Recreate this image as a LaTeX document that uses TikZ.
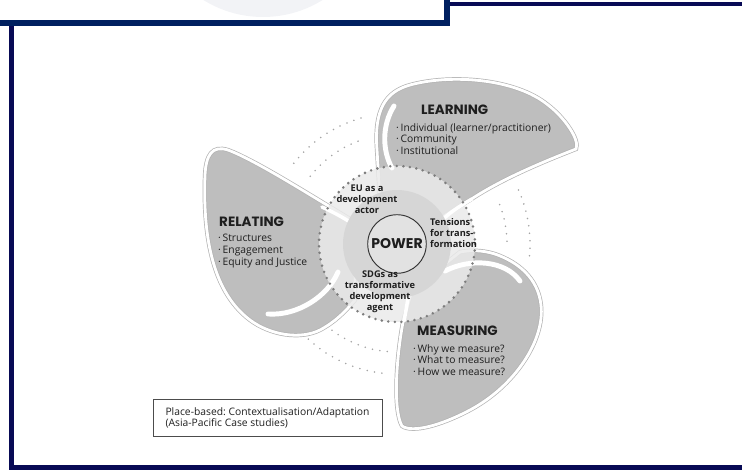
\documentclass[tikz,border=0pt]{standalone}
\usepackage{fontspec}
\setmainfont{Open Sans}
\newfontfamily\headfont{Poppins}
\usetikzlibrary{positioning}
\frenchspacing
\definecolor{navy}{RGB}{0,32,96}
\definecolor{navydark}{RGB}{8,10,85}
\definecolor{bladegray}{RGB}{190,190,190}
\definecolor{ringgray}{RGB}{234,234,234}
\definecolor{diskgray}{RGB}{214,214,214}
\definecolor{powergray}{RGB}{226,226,226}
\definecolor{dotgray}{RGB}{125,125,125}
\definecolor{faintdot}{RGB}{165,165,165}
\definecolor{headgray}{RGB}{242,243,246}
\definecolor{inkgray}{RGB}{30,30,30}
\tikzset{blade/.style={fill=bladegray,draw=gray!60,line width=3.6pt,postaction={draw=white,line width=2.4pt}}}
\tikzset{shine/.style={draw=white,line width=4.2pt,line cap=round}}
\tikzset{swirl/.style={draw=white,line width=3pt,line cap=round}}
\tikzset{dotring/.style={draw=dotgray,line width=2.4pt,line cap=round,dash pattern=on 0pt off 5.6pt}}
\tikzset{faintring/.style={draw=faintdot,line width=1.5pt,line cap=round,dash pattern=on 0pt off 6.4pt}}
\tikzset{head/.style={font=\headfont\bfseries\fontsize{11.5}{13}\selectfont,text=inkgray,inner sep=0pt,anchor=west}}
\tikzset{items/.style={font=\fontsize{8.8}{10}\selectfont,text=inkgray,align=left,inner sep=0pt,anchor=north west}}
\tikzset{hubtext/.style={font=\bfseries\fontsize{7.9}{9.4}\selectfont,text=inkgray,align=center,inner sep=0pt}}

\begin{document}
\begin{tikzpicture}[x=0.03cm,y=-0.03cm]
    \useasboundingbox (0,0) rectangle (742,470);
    \coordinate (hub) at (397,244);

    % header and frame
    \begin{scope}
      \clip (0,0) rectangle (444,20);
      \fill[headgray] (263,-96) circle (113);
    \end{scope}
    \draw[navy,line width=5.1pt] (0,23) -- (447,23) -- (447,0);
    \draw[navydark,line width=3.4pt] (450,4) -- (742,4);
    \draw[navydark,line width=3.8pt] (11.5,26) -- (11.5,467.5) -- (742,467.5);

    % blades
    \path[blade] (415,235) -- (380,200) -- (377,150) .. controls (374,110) and (385,92) .. (410,85)
      .. controls (450,74) and (515,78) .. (548,105) .. controls (565,118) and (580,140) .. (576,149)
      .. controls (540,163) and (500,180) .. (470,200) .. controls (450,212) and (430,225) .. cycle;
    \path[blade] (355,222) .. controls (310,195) and (255,160) .. (228,150)
      .. controls (212,145) and (206,155) .. (205,175) .. controls (203,230) and (210,290) .. (250,320)
      .. controls (270,335) and (300,340) .. (320,330) .. controls (335,322) and (345,312) .. (355,300) -- cycle;
    \path[blade] (412,290) -- (403,322) .. controls (396,360) and (393,410) .. (402,426)
      .. controls (412,433) and (440,426) .. (470,410) .. controls (515,386) and (545,340) .. (541,305)
      .. controls (538,278) and (518,262) .. (495,254) .. controls (482,250) and (470,250) .. (460,252) -- cycle;

    % centre rings
    \fill[ringgray,fill opacity=0.85] (hub) circle (78);
    \draw[swirl] (472,199) .. controls (458,207) and (448,214) .. (440,222);
    \draw[swirl] (322,207) .. controls (333,212) and (342,217) .. (350,222);
    \draw[swirl] (404,321) .. controls (406,311) and (407,303) .. (409,294);
    \draw[shine] (394,106) .. controls (382,125) and (382,150) .. (392,168);
    \draw[shine] (268,314) .. controls (298,316) and (328,296) .. (338,272);
    \draw[shine] (445,271) .. controls (470,258) and (505,260) .. (520,281);
    \fill[diskgray] (hub) circle (54);
    \draw[dotring] (hub) circle (78);

    % outer dots
    \draw[faintring] (hub) ++(218:131) arc[start angle=218,end angle=257,radius=131];
    \draw[faintring] (hub) ++(218:110) arc[start angle=218,end angle=250,radius=110];
    \draw[faintring] (hub) ++(-24:133) arc[start angle=-24,end angle=6,radius=133];
    \draw[faintring] (hub) ++(-21:110) arc[start angle=-21,end angle=1,radius=110];
    \draw[faintring] (hub) ++(133:130) arc[start angle=133,end angle=94,radius=130];
    \draw[faintring] (hub) ++(127:108) arc[start angle=127,end angle=94,radius=108];

    % texts
    \node[draw=black!80,line width=0.8pt,circle,fill=powergray,minimum size=50pt,inner sep=0pt,
      font=\headfont\bfseries\fontsize{12}{14}\selectfont,text=inkgray] (power) at (hub) {POWER};
    \node[hubtext] (euactor) at (367,199) {EU as a\\development\\actor};
    \node[hubtext,align=left,anchor=west] (tensions) at (430,233) {Tensions\\for trans-\\formation};
    \node[hubtext] (sdgs) at (380,291.5) {SDGs as\\transformative\\development\\agent};

    \node[head] (learnhead) at (421,110) {LEARNING};
    \node[items] (learnlist) at (396,123) {·\,Individual (learner/practitioner)\\·\,Community\\·\,Institutional};
    \node[head] (relatehead) at (219,221.5) {RELATING};
    \node[items] (relatelist) at (218,234) {·\,Structures\\·\,Engagement\\·\,Equity and Justice};
    \node[head] (measurehead) at (417,331) {MEASURING};
    \node[items] (measurelist) at (413,344) {·\,Why we measure?\\·\,What to measure?\\·\,How we measure?};

    \node[draw=black!70,line width=0.7pt,minimum width=6.87cm,minimum height=1.11cm,align=left,
      font=\fontsize{8.8}{9.4}\selectfont,text=inkgray] (placebox) at (267.5,417.5)
      {Place-based: Contextualisation/Adaptation\\(Asia-Pacific Case studies)};
\end{tikzpicture}
\end{document}
